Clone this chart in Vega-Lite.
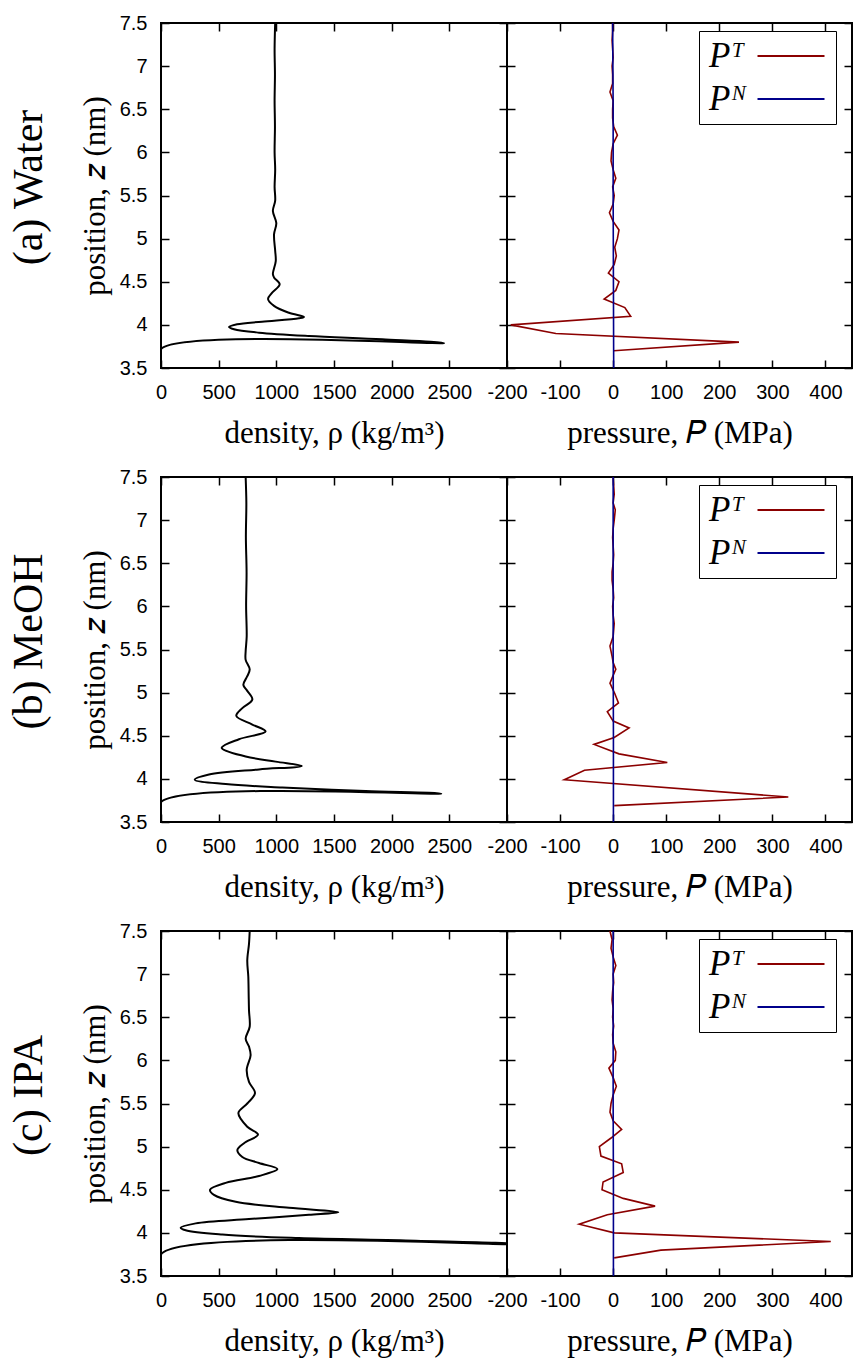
{
  "$schema": "https://vega.github.io/schema/vega-lite/v6.json",
  "background": "white",
  "padding": {"left": 8, "top": 12, "right": 0, "bottom": 5},
  "config": {
    "view": {"stroke": "black", "strokeWidth": 2},
    "axis": {
      "domain": false,
      "grid": false,
      "tickColor": "black",
      "tickSize": -8,
      "tickWidth": 1.5,
      "labelFont": "Liberation Sans",
      "labelFontSize": 20,
      "labelColor": "black",
      "labelPadding": 22,
      "labelOverlap": false,
      "labelFlush": false,
      "titleFont": "Liberation Serif",
      "titleFontSize": 31,
      "titleFontWeight": "normal",
      "titleColor": "black"
    },
    "axisBottom": {"titlePadding": 16},
    "axisLeft": {"titlePadding": 8},
    "legend": {
      "orient": "none",
      "legendX": 192,
      "legendY": 8,
      "title": null,
      "symbolType": "M-2,0H2",
      "symbolSize": 1122,
      "symbolStrokeWidth": 2,
      "labelFont": "Liberation Serif",
      "labelFontSize": 35,
      "labelFontStyle": "italic",
      "labelColor": "black",
      "strokeColor": "black",
      "fillColor": "white",
      "padding": 7,
      "symbolOffset": 67,
      "labelOffset": -100,
      "rowPadding": 7
    },
    "title": {"font": "Liberation Serif", "fontSize": 42, "fontWeight": "normal", "color": "black", "orient": "left", "anchor": "middle", "offset": 27, "dx": 43}
  },
  "datasets": {
    "density": [
      {"liquid": "Water", "z": 3.5, "rho": 0},
      {"liquid": "Water", "z": 3.72, "rho": 0},
      {"liquid": "Water", "z": 3.79, "rho": 2455},
      {"liquid": "Water", "z": 3.833, "rho": 1919},
      {"liquid": "Water", "z": 3.871, "rho": 1283},
      {"liquid": "Water", "z": 3.91, "rho": 850},
      {"liquid": "Water", "z": 3.949, "rho": 633},
      {"liquid": "Water", "z": 3.975, "rho": 590},
      {"liquid": "Water", "z": 4.007, "rho": 660},
      {"liquid": "Water", "z": 4.037, "rho": 876},
      {"liquid": "Water", "z": 4.076, "rho": 1196},
      {"liquid": "Water", "z": 4.091, "rho": 1240},
      {"liquid": "Water", "z": 4.14, "rho": 1110},
      {"liquid": "Water", "z": 4.22, "rho": 980},
      {"liquid": "Water", "z": 4.3, "rho": 928},
      {"liquid": "Water", "z": 4.37, "rho": 962},
      {"liquid": "Water", "z": 4.47, "rho": 1029},
      {"liquid": "Water", "z": 4.55, "rho": 980},
      {"liquid": "Water", "z": 4.59, "rho": 970},
      {"liquid": "Water", "z": 4.74, "rho": 995},
      {"liquid": "Water", "z": 4.86, "rho": 990},
      {"liquid": "Water", "z": 5.05, "rho": 980},
      {"liquid": "Water", "z": 5.18, "rho": 1000},
      {"liquid": "Water", "z": 5.32, "rho": 970},
      {"liquid": "Water", "z": 5.44, "rho": 990},
      {"liquid": "Water", "z": 5.6, "rho": 985},
      {"liquid": "Water", "z": 5.8, "rho": 990},
      {"liquid": "Water", "z": 6.0, "rho": 985},
      {"liquid": "Water", "z": 6.3, "rho": 988},
      {"liquid": "Water", "z": 6.6, "rho": 985},
      {"liquid": "Water", "z": 6.9, "rho": 988},
      {"liquid": "Water", "z": 7.2, "rho": 985},
      {"liquid": "Water", "z": 7.5, "rho": 990},

      {"liquid": "MeOH", "z": 3.5, "rho": 0},
      {"liquid": "MeOH", "z": 3.73, "rho": 0},
      {"liquid": "MeOH", "z": 3.83, "rho": 2430},
      {"liquid": "MeOH", "z": 3.86, "rho": 1775},
      {"liquid": "MeOH", "z": 3.9, "rho": 1052},
      {"liquid": "MeOH", "z": 3.94, "rho": 561},
      {"liquid": "MeOH", "z": 3.99, "rho": 292},
      {"liquid": "MeOH", "z": 4.05, "rho": 416},
      {"liquid": "MeOH", "z": 4.11, "rho": 850},
      {"liquid": "MeOH", "z": 4.15, "rho": 1220},
      {"liquid": "MeOH", "z": 4.2, "rho": 994},
      {"liquid": "MeOH", "z": 4.26, "rho": 734},
      {"liquid": "MeOH", "z": 4.36, "rho": 526},
      {"liquid": "MeOH", "z": 4.46, "rho": 676},
      {"liquid": "MeOH", "z": 4.55, "rho": 907},
      {"liquid": "MeOH", "z": 4.63, "rho": 792},
      {"liquid": "MeOH", "z": 4.73, "rho": 653},
      {"liquid": "MeOH", "z": 4.82, "rho": 705},
      {"liquid": "MeOH", "z": 4.92, "rho": 792},
      {"liquid": "MeOH", "z": 5.02, "rho": 748},
      {"liquid": "MeOH", "z": 5.09, "rho": 714},
      {"liquid": "MeOH", "z": 5.19, "rho": 748},
      {"liquid": "MeOH", "z": 5.27, "rho": 769},
      {"liquid": "MeOH", "z": 5.38, "rho": 734},
      {"liquid": "MeOH", "z": 5.48, "rho": 734},
      {"liquid": "MeOH", "z": 5.65, "rho": 743},
      {"liquid": "MeOH", "z": 6.0, "rho": 738},
      {"liquid": "MeOH", "z": 6.4, "rho": 742},
      {"liquid": "MeOH", "z": 6.8, "rho": 736},
      {"liquid": "MeOH", "z": 7.2, "rho": 740},
      {"liquid": "MeOH", "z": 7.5, "rho": 734},

      {"liquid": "IPA", "z": 3.5, "rho": 0},
      {"liquid": "IPA", "z": 3.765, "rho": 10},
      {"liquid": "IPA", "z": 3.87, "rho": 3100},
      {"liquid": "IPA", "z": 3.91, "rho": 2208},
      {"liquid": "IPA", "z": 3.94, "rho": 1196},
      {"liquid": "IPA", "z": 3.98, "rho": 532},
      {"liquid": "IPA", "z": 4.03, "rho": 214},
      {"liquid": "IPA", "z": 4.06, "rho": 171},
      {"liquid": "IPA", "z": 4.11, "rho": 301},
      {"liquid": "IPA", "z": 4.16, "rho": 763},
      {"liquid": "IPA", "z": 4.21, "rho": 1283},
      {"liquid": "IPA", "z": 4.24, "rho": 1537},
      {"liquid": "IPA", "z": 4.29, "rho": 1110},
      {"liquid": "IPA", "z": 4.36, "rho": 648},
      {"liquid": "IPA", "z": 4.44, "rho": 459},
      {"liquid": "IPA", "z": 4.5, "rho": 425},
      {"liquid": "IPA", "z": 4.58, "rho": 561},
      {"liquid": "IPA", "z": 4.66, "rho": 850},
      {"liquid": "IPA", "z": 4.74, "rho": 1009},
      {"liquid": "IPA", "z": 4.81, "rho": 850},
      {"liquid": "IPA", "z": 4.88, "rho": 705},
      {"liquid": "IPA", "z": 4.96, "rho": 662},
      {"liquid": "IPA", "z": 5.04, "rho": 720},
      {"liquid": "IPA", "z": 5.14, "rho": 841},
      {"liquid": "IPA", "z": 5.23, "rho": 748},
      {"liquid": "IPA", "z": 5.39, "rho": 671},
      {"liquid": "IPA", "z": 5.5, "rho": 748},
      {"liquid": "IPA", "z": 5.62, "rho": 815},
      {"liquid": "IPA", "z": 5.75, "rho": 763},
      {"liquid": "IPA", "z": 5.89, "rho": 743},
      {"liquid": "IPA", "z": 6.06, "rho": 777},
      {"liquid": "IPA", "z": 6.16, "rho": 763},
      {"liquid": "IPA", "z": 6.25, "rho": 734},
      {"liquid": "IPA", "z": 6.39, "rho": 769},
      {"liquid": "IPA", "z": 6.58, "rho": 763},
      {"liquid": "IPA", "z": 6.77, "rho": 760},
      {"liquid": "IPA", "z": 6.97, "rho": 757},
      {"liquid": "IPA", "z": 7.16, "rho": 748},
      {"liquid": "IPA", "z": 7.35, "rho": 763},
      {"liquid": "IPA", "z": 7.5, "rho": 769}
    ],
    "pressure": [
      {"liquid": "Water", "component": "T", "z": 3.7, "p": 1},
      {"liquid": "Water", "component": "T", "z": 3.8, "p": 237},
      {"liquid": "Water", "component": "T", "z": 3.9, "p": -108},
      {"liquid": "Water", "component": "T", "z": 4.0, "p": -193},
      {"liquid": "Water", "component": "T", "z": 4.1, "p": 33},
      {"liquid": "Water", "component": "T", "z": 4.2, "p": 22},
      {"liquid": "Water", "component": "T", "z": 4.3, "p": -17},
      {"liquid": "Water", "component": "T", "z": 4.4, "p": 5},
      {"liquid": "Water", "component": "T", "z": 4.5, "p": 11},
      {"liquid": "Water", "component": "T", "z": 4.6, "p": -9},
      {"liquid": "Water", "component": "T", "z": 4.7, "p": 2},
      {"liquid": "Water", "component": "T", "z": 4.8, "p": 6},
      {"liquid": "Water", "component": "T", "z": 4.9, "p": 3},
      {"liquid": "Water", "component": "T", "z": 5.0, "p": 8},
      {"liquid": "Water", "component": "T", "z": 5.1, "p": 11},
      {"liquid": "Water", "component": "T", "z": 5.2, "p": 0},
      {"liquid": "Water", "component": "T", "z": 5.3, "p": -7},
      {"liquid": "Water", "component": "T", "z": 5.4, "p": 0},
      {"liquid": "Water", "component": "T", "z": 5.5, "p": 2},
      {"liquid": "Water", "component": "T", "z": 5.6, "p": -1},
      {"liquid": "Water", "component": "T", "z": 5.7, "p": 5},
      {"liquid": "Water", "component": "T", "z": 5.8, "p": 0},
      {"liquid": "Water", "component": "T", "z": 5.9, "p": -4},
      {"liquid": "Water", "component": "T", "z": 6.0, "p": -3},
      {"liquid": "Water", "component": "T", "z": 6.1, "p": 0},
      {"liquid": "Water", "component": "T", "z": 6.2, "p": 8},
      {"liquid": "Water", "component": "T", "z": 6.3, "p": 1},
      {"liquid": "Water", "component": "T", "z": 6.4, "p": -1},
      {"liquid": "Water", "component": "T", "z": 6.5, "p": -1},
      {"liquid": "Water", "component": "T", "z": 6.6, "p": 0},
      {"liquid": "Water", "component": "T", "z": 6.7, "p": -6},
      {"liquid": "Water", "component": "T", "z": 6.8, "p": -1},
      {"liquid": "Water", "component": "T", "z": 6.9, "p": -1},
      {"liquid": "Water", "component": "T", "z": 7.0, "p": -2},
      {"liquid": "Water", "component": "T", "z": 7.1, "p": 0},
      {"liquid": "Water", "component": "T", "z": 7.2, "p": -1},
      {"liquid": "Water", "component": "T", "z": 7.3, "p": -2},
      {"liquid": "Water", "component": "T", "z": 7.4, "p": -1},
      {"liquid": "Water", "component": "T", "z": 7.5, "p": -1},
      {"liquid": "Water", "component": "N", "z": 3.5, "p": 1},
      {"liquid": "Water", "component": "N", "z": 4.5, "p": 0.5},
      {"liquid": "Water", "component": "N", "z": 5.5, "p": 0},
      {"liquid": "Water", "component": "N", "z": 6.5, "p": 0},
      {"liquid": "Water", "component": "N", "z": 7.5, "p": -1},

      {"liquid": "MeOH", "component": "T", "z": 3.69, "p": 2},
      {"liquid": "MeOH", "component": "T", "z": 3.79, "p": 330},
      {"liquid": "MeOH", "component": "T", "z": 3.99, "p": -92},
      {"liquid": "MeOH", "component": "T", "z": 4.1, "p": -54},
      {"liquid": "MeOH", "component": "T", "z": 4.19, "p": 102},
      {"liquid": "MeOH", "component": "T", "z": 4.29, "p": 11},
      {"liquid": "MeOH", "component": "T", "z": 4.4, "p": -36},
      {"liquid": "MeOH", "component": "T", "z": 4.48, "p": 2},
      {"liquid": "MeOH", "component": "T", "z": 4.59, "p": 30},
      {"liquid": "MeOH", "component": "T", "z": 4.67, "p": 0},
      {"liquid": "MeOH", "component": "T", "z": 4.78, "p": -11},
      {"liquid": "MeOH", "component": "T", "z": 4.88, "p": 10},
      {"liquid": "MeOH", "component": "T", "z": 4.99, "p": 3},
      {"liquid": "MeOH", "component": "T", "z": 5.11, "p": -6},
      {"liquid": "MeOH", "component": "T", "z": 5.2, "p": 0},
      {"liquid": "MeOH", "component": "T", "z": 5.27, "p": 5},
      {"liquid": "MeOH", "component": "T", "z": 5.35, "p": 0},
      {"liquid": "MeOH", "component": "T", "z": 5.42, "p": -2},
      {"liquid": "MeOH", "component": "T", "z": 5.54, "p": -6},
      {"liquid": "MeOH", "component": "T", "z": 5.65, "p": 0},
      {"liquid": "MeOH", "component": "T", "z": 5.8, "p": 2},
      {"liquid": "MeOH", "component": "T", "z": 5.9, "p": 0},
      {"liquid": "MeOH", "component": "T", "z": 6.0, "p": -1},
      {"liquid": "MeOH", "component": "T", "z": 6.1, "p": 1},
      {"liquid": "MeOH", "component": "T", "z": 6.2, "p": 0},
      {"liquid": "MeOH", "component": "T", "z": 6.3, "p": -2},
      {"liquid": "MeOH", "component": "T", "z": 6.4, "p": -2},
      {"liquid": "MeOH", "component": "T", "z": 6.5, "p": 0},
      {"liquid": "MeOH", "component": "T", "z": 6.6, "p": 1},
      {"liquid": "MeOH", "component": "T", "z": 6.7, "p": 0},
      {"liquid": "MeOH", "component": "T", "z": 6.8, "p": -1},
      {"liquid": "MeOH", "component": "T", "z": 6.9, "p": 0},
      {"liquid": "MeOH", "component": "T", "z": 7.0, "p": 2},
      {"liquid": "MeOH", "component": "T", "z": 7.12, "p": 4},
      {"liquid": "MeOH", "component": "T", "z": 7.2, "p": 0},
      {"liquid": "MeOH", "component": "T", "z": 7.3, "p": 2},
      {"liquid": "MeOH", "component": "T", "z": 7.4, "p": 1},
      {"liquid": "MeOH", "component": "T", "z": 7.5, "p": 0},
      {"liquid": "MeOH", "component": "N", "z": 3.5, "p": 0.5},
      {"liquid": "MeOH", "component": "N", "z": 4.5, "p": 0.5},
      {"liquid": "MeOH", "component": "N", "z": 5.5, "p": 0},
      {"liquid": "MeOH", "component": "N", "z": 6.5, "p": 0},
      {"liquid": "MeOH", "component": "N", "z": 7.5, "p": 0},

      {"liquid": "IPA", "component": "T", "z": 3.71, "p": 2},
      {"liquid": "IPA", "component": "T", "z": 3.8, "p": 90},
      {"liquid": "IPA", "component": "T", "z": 3.9, "p": 410},
      {"liquid": "IPA", "component": "T", "z": 4.0, "p": 2},
      {"liquid": "IPA", "component": "T", "z": 4.1, "p": -64},
      {"liquid": "IPA", "component": "T", "z": 4.21, "p": -11},
      {"liquid": "IPA", "component": "T", "z": 4.31, "p": 79},
      {"liquid": "IPA", "component": "T", "z": 4.4, "p": 19},
      {"liquid": "IPA", "component": "T", "z": 4.5, "p": -21},
      {"liquid": "IPA", "component": "T", "z": 4.59, "p": -19},
      {"liquid": "IPA", "component": "T", "z": 4.7, "p": 19},
      {"liquid": "IPA", "component": "T", "z": 4.8, "p": 16},
      {"liquid": "IPA", "component": "T", "z": 4.89, "p": -23},
      {"liquid": "IPA", "component": "T", "z": 5.0, "p": -26},
      {"liquid": "IPA", "component": "T", "z": 5.1, "p": -4},
      {"liquid": "IPA", "component": "T", "z": 5.2, "p": 16},
      {"liquid": "IPA", "component": "T", "z": 5.3, "p": 0},
      {"liquid": "IPA", "component": "T", "z": 5.4, "p": -6},
      {"liquid": "IPA", "component": "T", "z": 5.5, "p": -4},
      {"liquid": "IPA", "component": "T", "z": 5.6, "p": 0},
      {"liquid": "IPA", "component": "T", "z": 5.7, "p": 6},
      {"liquid": "IPA", "component": "T", "z": 5.8, "p": 0},
      {"liquid": "IPA", "component": "T", "z": 5.91, "p": -8},
      {"liquid": "IPA", "component": "T", "z": 6.0, "p": 4},
      {"liquid": "IPA", "component": "T", "z": 6.1, "p": 5},
      {"liquid": "IPA", "component": "T", "z": 6.2, "p": 0},
      {"liquid": "IPA", "component": "T", "z": 6.3, "p": -1},
      {"liquid": "IPA", "component": "T", "z": 6.4, "p": 1},
      {"liquid": "IPA", "component": "T", "z": 6.5, "p": -1},
      {"liquid": "IPA", "component": "T", "z": 6.6, "p": 0},
      {"liquid": "IPA", "component": "T", "z": 6.7, "p": -2},
      {"liquid": "IPA", "component": "T", "z": 6.8, "p": -1},
      {"liquid": "IPA", "component": "T", "z": 6.9, "p": 1},
      {"liquid": "IPA", "component": "T", "z": 7.0, "p": 0},
      {"liquid": "IPA", "component": "T", "z": 7.1, "p": 5},
      {"liquid": "IPA", "component": "T", "z": 7.2, "p": 0},
      {"liquid": "IPA", "component": "T", "z": 7.3, "p": -4},
      {"liquid": "IPA", "component": "T", "z": 7.4, "p": -2},
      {"liquid": "IPA", "component": "T", "z": 7.5, "p": -6},
      {"liquid": "IPA", "component": "N", "z": 3.5, "p": 0.5},
      {"liquid": "IPA", "component": "N", "z": 4.5, "p": 0.5},
      {"liquid": "IPA", "component": "N", "z": 5.5, "p": 0},
      {"liquid": "IPA", "component": "N", "z": 6.5, "p": 0},
      {"liquid": "IPA", "component": "N", "z": 7.5, "p": 0}
    ]
  },
  "vconcat": [
    {
      "title": {"text": "(a) Water"},
      "hconcat": [
        {
          "width": 346, "height": 345,
          "data": {"name": "density"},
          "transform": [{"filter": "datum.liquid === 'Water'"}],
          "layer": [
            {
              "mark": {"type": "line", "color": "black", "strokeWidth": 2, "interpolate": "catmull-rom", "clip": true},
              "encoding": {
                "x": {"field": "rho", "type": "quantitative", "scale": {"domain": [0, 3000], "nice": false}, "axis": {"orient": "bottom", "values": [0, 500, 1000, 1500, 2000, 2500], "format": "d", "title": "density, ρ (kg/m³)"}},
                "y": {"field": "z", "type": "quantitative", "scale": {"domain": [3.5, 7.5], "nice": false, "zero": false}, "axis": {"orient": "left", "values": [3.5, 4, 4.5, 5, 5.5, 6, 6.5, 7, 7.5], "format": "~g", "title": "position, 𝑧 (nm)"}},
                "order": {"field": "z", "type": "quantitative"}
              }
            },
            {
              "mark": {"type": "line", "strokeOpacity": 0},
              "encoding": {
                "x": {"field": "rho", "type": "quantitative", "axis": {"orient": "top", "values": [0, 500, 1000, 1500, 2000, 2500], "labels": false, "title": null}},
                "y": {"field": "z", "type": "quantitative", "axis": {"orient": "right", "values": [3.5, 4, 4.5, 5, 5.5, 6, 6.5, 7, 7.5], "labels": false, "title": null}}
              }
            }
          ],
          "resolve": {"axis": {"x": "independent", "y": "independent"}}
        },
        {
          "width": 345, "height": 345,
          "data": {"name": "pressure"},
          "transform": [{"filter": "datum.liquid === 'Water'"}],
          "layer": [
            {
              "mark": {"type": "line", "strokeWidth": 1.6, "clip": true},
              "encoding": {
                "x": {"field": "p", "type": "quantitative", "scale": {"domain": [-200, 450], "nice": false, "zero": false}, "axis": {"orient": "bottom", "values": [-200, -100, 0, 100, 200, 300, 400], "labelExpr": "'' + datum.value", "title": "pressure, 𝑃 (MPa)"}},
                "y": {"field": "z", "type": "quantitative", "scale": {"domain": [3.5, 7.5], "nice": false, "zero": false}, "axis": {"orient": "left", "values": [3.5, 4, 4.5, 5, 5.5, 6, 6.5, 7, 7.5], "labels": false, "title": null}},
                "color": {"field": "component", "type": "nominal", "scale": {"domain": ["T", "N"], "range": ["#8b0000", "#00008b"]}, "legend": {"labelExpr": "datum.value == 'T' ? 'Pᵀ' : 'Pᴺ'"}},
                "order": {"field": "z", "type": "quantitative"}
              }
            },
            {
              "mark": {"type": "line", "strokeOpacity": 0},
              "encoding": {
                "x": {"field": "p", "type": "quantitative", "axis": {"orient": "top", "values": [-200, -100, 0, 100, 200, 300, 400], "labels": false, "title": null}},
                "y": {"field": "z", "type": "quantitative", "axis": {"orient": "right", "values": [3.5, 4, 4.5, 5, 5.5, 6, 6.5, 7, 7.5], "labels": false, "title": null}}
              }
            }
          ],
          "resolve": {"axis": {"x": "independent", "y": "independent"}}
        }
      ],
      "spacing": 0,
      "bounds": "flush",
      "resolve": {"scale": {"color": "independent"}}
    },
    {
      "title": {"text": "(b) MeOH"},
      "hconcat": [
        {
          "width": 346, "height": 345,
          "data": {"name": "density"},
          "transform": [{"filter": "datum.liquid === 'MeOH'"}],
          "layer": [
            {
              "mark": {"type": "line", "color": "black", "strokeWidth": 2, "interpolate": "catmull-rom", "clip": true},
              "encoding": {
                "x": {"field": "rho", "type": "quantitative", "scale": {"domain": [0, 3000], "nice": false}, "axis": {"orient": "bottom", "values": [0, 500, 1000, 1500, 2000, 2500], "format": "d", "title": "density, ρ (kg/m³)"}},
                "y": {"field": "z", "type": "quantitative", "scale": {"domain": [3.5, 7.5], "nice": false, "zero": false}, "axis": {"orient": "left", "values": [3.5, 4, 4.5, 5, 5.5, 6, 6.5, 7, 7.5], "format": "~g", "title": "position, 𝑧 (nm)"}},
                "order": {"field": "z", "type": "quantitative"}
              }
            },
            {
              "mark": {"type": "line", "strokeOpacity": 0},
              "encoding": {
                "x": {"field": "rho", "type": "quantitative", "axis": {"orient": "top", "values": [0, 500, 1000, 1500, 2000, 2500], "labels": false, "title": null}},
                "y": {"field": "z", "type": "quantitative", "axis": {"orient": "right", "values": [3.5, 4, 4.5, 5, 5.5, 6, 6.5, 7, 7.5], "labels": false, "title": null}}
              }
            }
          ],
          "resolve": {"axis": {"x": "independent", "y": "independent"}}
        },
        {
          "width": 345, "height": 345,
          "data": {"name": "pressure"},
          "transform": [{"filter": "datum.liquid === 'MeOH'"}],
          "layer": [
            {
              "mark": {"type": "line", "strokeWidth": 1.6, "clip": true},
              "encoding": {
                "x": {"field": "p", "type": "quantitative", "scale": {"domain": [-200, 450], "nice": false, "zero": false}, "axis": {"orient": "bottom", "values": [-200, -100, 0, 100, 200, 300, 400], "labelExpr": "'' + datum.value", "title": "pressure, 𝑃 (MPa)"}},
                "y": {"field": "z", "type": "quantitative", "scale": {"domain": [3.5, 7.5], "nice": false, "zero": false}, "axis": {"orient": "left", "values": [3.5, 4, 4.5, 5, 5.5, 6, 6.5, 7, 7.5], "labels": false, "title": null}},
                "color": {"field": "component", "type": "nominal", "scale": {"domain": ["T", "N"], "range": ["#8b0000", "#00008b"]}, "legend": {"labelExpr": "datum.value == 'T' ? 'Pᵀ' : 'Pᴺ'"}},
                "order": {"field": "z", "type": "quantitative"}
              }
            },
            {
              "mark": {"type": "line", "strokeOpacity": 0},
              "encoding": {
                "x": {"field": "p", "type": "quantitative", "axis": {"orient": "top", "values": [-200, -100, 0, 100, 200, 300, 400], "labels": false, "title": null}},
                "y": {"field": "z", "type": "quantitative", "axis": {"orient": "right", "values": [3.5, 4, 4.5, 5, 5.5, 6, 6.5, 7, 7.5], "labels": false, "title": null}}
              }
            }
          ],
          "resolve": {"axis": {"x": "independent", "y": "independent"}}
        }
      ],
      "spacing": 0,
      "bounds": "flush",
      "resolve": {"scale": {"color": "independent"}}
    },
    {
      "title": {"text": "(c) IPA"},
      "hconcat": [
        {
          "width": 346, "height": 345,
          "data": {"name": "density"},
          "transform": [{"filter": "datum.liquid === 'IPA'"}],
          "layer": [
            {
              "mark": {"type": "line", "color": "black", "strokeWidth": 2, "interpolate": "catmull-rom", "clip": true},
              "encoding": {
                "x": {"field": "rho", "type": "quantitative", "scale": {"domain": [0, 3000], "nice": false}, "axis": {"orient": "bottom", "values": [0, 500, 1000, 1500, 2000, 2500], "format": "d", "title": "density, ρ (kg/m³)"}},
                "y": {"field": "z", "type": "quantitative", "scale": {"domain": [3.5, 7.5], "nice": false, "zero": false}, "axis": {"orient": "left", "values": [3.5, 4, 4.5, 5, 5.5, 6, 6.5, 7, 7.5], "format": "~g", "title": "position, 𝑧 (nm)"}},
                "order": {"field": "z", "type": "quantitative"}
              }
            },
            {
              "mark": {"type": "line", "strokeOpacity": 0},
              "encoding": {
                "x": {"field": "rho", "type": "quantitative", "axis": {"orient": "top", "values": [0, 500, 1000, 1500, 2000, 2500], "labels": false, "title": null}},
                "y": {"field": "z", "type": "quantitative", "axis": {"orient": "right", "values": [3.5, 4, 4.5, 5, 5.5, 6, 6.5, 7, 7.5], "labels": false, "title": null}}
              }
            }
          ],
          "resolve": {"axis": {"x": "independent", "y": "independent"}}
        },
        {
          "width": 345, "height": 345,
          "data": {"name": "pressure"},
          "transform": [{"filter": "datum.liquid === 'IPA'"}],
          "layer": [
            {
              "mark": {"type": "line", "strokeWidth": 1.6, "clip": true},
              "encoding": {
                "x": {"field": "p", "type": "quantitative", "scale": {"domain": [-200, 450], "nice": false, "zero": false}, "axis": {"orient": "bottom", "values": [-200, -100, 0, 100, 200, 300, 400], "labelExpr": "'' + datum.value", "title": "pressure, 𝑃 (MPa)"}},
                "y": {"field": "z", "type": "quantitative", "scale": {"domain": [3.5, 7.5], "nice": false, "zero": false}, "axis": {"orient": "left", "values": [3.5, 4, 4.5, 5, 5.5, 6, 6.5, 7, 7.5], "labels": false, "title": null}},
                "color": {"field": "component", "type": "nominal", "scale": {"domain": ["T", "N"], "range": ["#8b0000", "#00008b"]}, "legend": {"labelExpr": "datum.value == 'T' ? 'Pᵀ' : 'Pᴺ'"}},
                "order": {"field": "z", "type": "quantitative"}
              }
            },
            {
              "mark": {"type": "line", "strokeOpacity": 0},
              "encoding": {
                "x": {"field": "p", "type": "quantitative", "axis": {"orient": "top", "values": [-200, -100, 0, 100, 200, 300, 400], "labels": false, "title": null}},
                "y": {"field": "z", "type": "quantitative", "axis": {"orient": "right", "values": [3.5, 4, 4.5, 5, 5.5, 6, 6.5, 7, 7.5], "labels": false, "title": null}}
              }
            }
          ],
          "resolve": {"axis": {"x": "independent", "y": "independent"}}
        }
      ],
      "spacing": 0,
      "bounds": "flush",
      "resolve": {"scale": {"color": "independent"}}
    }
  ],
  "spacing": 17,
  "resolve": {"scale": {"color": "independent"}}
}
